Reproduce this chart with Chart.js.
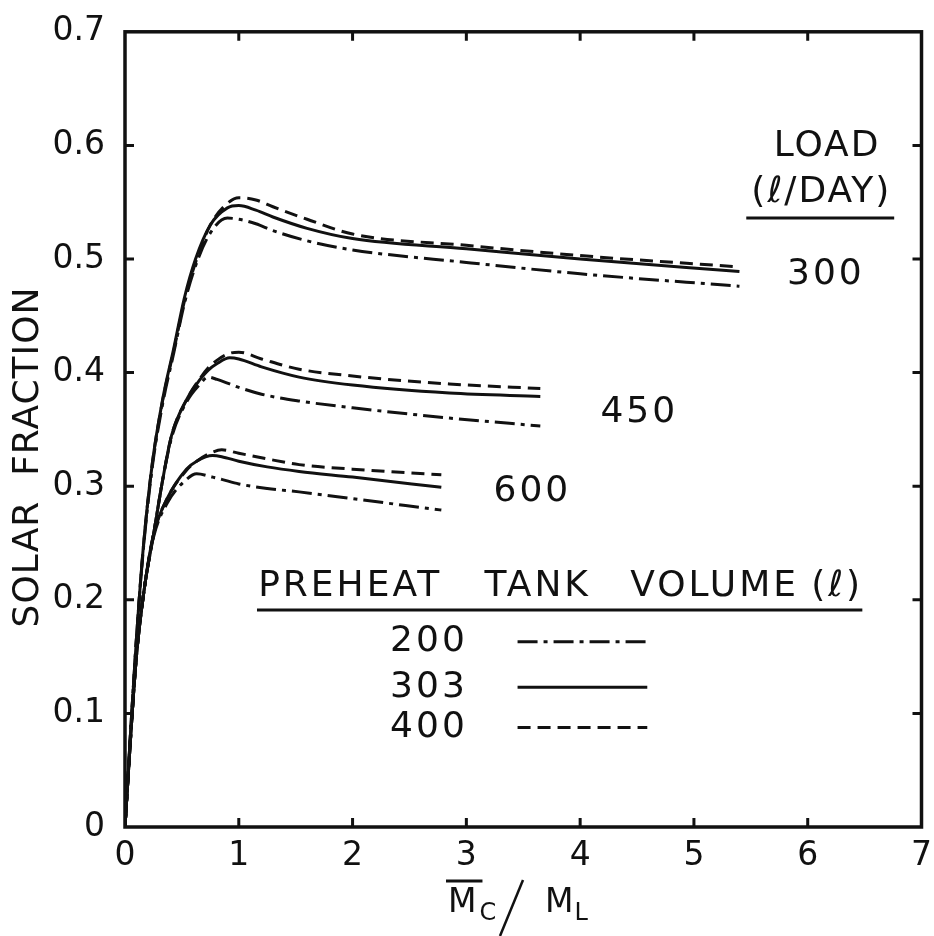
<!DOCTYPE html>
<html>
<head>
<meta charset="utf-8">
<script src="https://cdn.jsdelivr.net/npm/chart.js@4.4.1/dist/chart.umd.min.js"></script>
<style>
  html, body { margin: 0; padding: 0; background: #fff; }
</style>
</head>
<body>
<canvas id="chart" width="934" height="936"></canvas>
<script>
// x = Mc / ML, y = solar fraction, one x grid per load group
const xLoad300 = [0, 0.05, 0.1, 0.16, 0.24, 0.33, 0.43, 0.52, 0.62, 0.75, 0.9, 1.0, 1.15, 1.3, 1.6, 2, 3, 4, 5.4];
const y300_tank200 = [0, 0.085, 0.165, 0.243, 0.317, 0.372, 0.418, 0.46, 0.494, 0.523, 0.536, 0.535, 0.531, 0.525, 0.516, 0.508, 0.497, 0.487, 0.476];
const y300_tank303 = [0, 0.085, 0.165, 0.245, 0.32, 0.376, 0.422, 0.465, 0.5, 0.53, 0.545, 0.547, 0.543, 0.537, 0.527, 0.518, 0.509, 0.5, 0.489];
const y300_tank400 = [0, 0.085, 0.165, 0.245, 0.32, 0.375, 0.42, 0.462, 0.497, 0.53, 0.549, 0.554, 0.552, 0.546, 0.535, 0.522, 0.512, 0.503, 0.493];

const xLoad450 = [0, 0.05, 0.1, 0.17, 0.25, 0.33, 0.41, 0.54, 0.66, 0.73, 0.81, 0.92, 1.0, 1.2, 1.53, 2, 2.85, 3.65];
const y450_tank200 = [0, 0.08, 0.15, 0.21, 0.257, 0.305, 0.343, 0.374, 0.39, 0.396, 0.394, 0.39, 0.387, 0.381, 0.375, 0.369, 0.36, 0.353];
const y450_tank303 = [0, 0.08, 0.15, 0.21, 0.257, 0.305, 0.345, 0.376, 0.394, 0.402, 0.408, 0.413, 0.412, 0.405, 0.396, 0.389, 0.382, 0.379];
const y450_tank400 = [0, 0.08, 0.15, 0.21, 0.257, 0.305, 0.345, 0.376, 0.395, 0.404, 0.411, 0.417, 0.418, 0.412, 0.403, 0.397, 0.39, 0.386];

const xLoad600 = [0, 0.05, 0.1, 0.17, 0.25, 0.37, 0.54, 0.63, 0.77, 0.85, 1.0, 1.25, 1.53, 2, 2.78];
const y600_tank200 = [0, 0.08, 0.15, 0.21, 0.255, 0.285, 0.306, 0.311, 0.308, 0.306, 0.302, 0.298, 0.295, 0.289, 0.279];
const y600_tank303 = [0, 0.08, 0.15, 0.21, 0.257, 0.289, 0.315, 0.322, 0.327, 0.326, 0.322, 0.317, 0.313, 0.308, 0.299];
const y600_tank400 = [0, 0.08, 0.15, 0.21, 0.257, 0.289, 0.314, 0.322, 0.33, 0.332, 0.329, 0.324, 0.319, 0.315, 0.31];

const tankVolumes = ['200', '303', '400'];
const loadLabels = ['300', '450', '600'];
const xTicks = [0, 1, 2, 3, 4, 5, 6, 7];
const yTicks = [0, 0.1, 0.2, 0.3, 0.4, 0.5, 0.6, 0.7];

const FONT = '"DejaVu Sans", sans-serif';
const INK = '#111';
const dashStyles = { '200': [20, 6, 4, 6], '303': [], '400': [13, 7] };

function pts(xs, ys) {
    return xs.map((x, i) => ({ x: x, y: ys[i] }));
}

function curve(label, tank, xs, ys) {
    return {
        label: label,
        data: pts(xs, ys),
        showLine: true,
        borderColor: INK,
        borderWidth: 3,
        borderDash: dashStyles[tank],
        pointRadius: 0,
        cubicInterpolationMode: 'monotone',
        fill: false
    };
}

const datasets = [
    curve('300 / 200', '200', xLoad300, y300_tank200),
    curve('300 / 303', '303', xLoad300, y300_tank303),
    curve('300 / 400', '400', xLoad300, y300_tank400),
    curve('450 / 200', '200', xLoad450, y450_tank200),
    curve('450 / 303', '303', xLoad450, y450_tank303),
    curve('450 / 400', '400', xLoad450, y450_tank400),
    curve('600 / 200', '200', xLoad600, y600_tank200),
    curve('600 / 303', '303', xLoad600, y600_tank303),
    curve('600 / 400', '400', xLoad600, y600_tank400)
];

// frame, inward ticks, annotations and axis titles
const decorations = {
    id: 'decorations',
    afterDraw(chart) {
        const ctx = chart.ctx;
        const a = chart.chartArea;
        const xs = chart.scales.x;
        const ys = chart.scales.y;
        const px = v => xs.getPixelForValue(v);
        const py = v => ys.getPixelForValue(v);

        ctx.save();
        ctx.strokeStyle = INK;
        ctx.fillStyle = INK;
        ctx.setLineDash([]);
        ctx.lineWidth = 3.5;
        ctx.strokeRect(a.left, a.top, a.right - a.left, a.bottom - a.top);

        ctx.lineWidth = 3;
        ctx.beginPath();
        xTicks.slice(1, -1).forEach(v => {
            ctx.moveTo(px(v), a.bottom); ctx.lineTo(px(v), a.bottom - 9);
            ctx.moveTo(px(v), a.top); ctx.lineTo(px(v), a.top + 9);
        });
        yTicks.slice(1, -1).forEach(v => {
            ctx.moveTo(a.left, py(v)); ctx.lineTo(a.left + 9, py(v));
            ctx.moveTo(a.right, py(v)); ctx.lineTo(a.right - 9, py(v));
        });
        ctx.stroke();

        ctx.textBaseline = 'middle';
        ctx.font = '36px ' + FONT;
        ctx.letterSpacing = '2px';

        // load labels
        ctx.textAlign = 'center';
        ctx.fillText('LOAD', px(6.17), py(0.599));
        ctx.fillText('(\u2113/DAY)', px(6.12), py(0.558));
        ctx.lineWidth = 3;
        ctx.beginPath();
        ctx.moveTo(px(5.46), py(0.536)); ctx.lineTo(px(6.76), py(0.536));
        ctx.stroke();
        ctx.letterSpacing = '3px';
        ctx.fillText(loadLabels[0], px(6.16), py(0.4865));
        ctx.fillText(loadLabels[1], px(4.52), py(0.365));
        ctx.fillText(loadLabels[2], px(3.58), py(0.295));

        // tank volume key
        ctx.textAlign = 'left';
        ctx.fillText('PREHEAT', px(1.17), py(0.212));
        ctx.fillText('TANK', px(3.16), py(0.212));
        ctx.fillText('VOLUME', px(4.44), py(0.212));
        ctx.fillText('(\u2113)', px(6.03), py(0.212));
        ctx.beginPath();
        ctx.moveTo(px(1.16), py(0.191)); ctx.lineTo(px(6.48), py(0.191));
        ctx.stroke();

        const keyY = [0.163, 0.123, 0.0875];
        tankVolumes.forEach((t, i) => {
            ctx.textAlign = 'left';
            ctx.fillText(t, px(2.33), py(keyY[i]));
            ctx.setLineDash(dashStyles[t]);
            ctx.beginPath();
            ctx.moveTo(px(3.45), py(keyY[i])); ctx.lineTo(px(4.59), py(keyY[i]));
            ctx.stroke();
            ctx.setLineDash([]);
        });
        ctx.letterSpacing = '0px';

        // y title
        ctx.save();
        ctx.translate(29, 457);
        ctx.rotate(-Math.PI / 2);
        ctx.textAlign = 'center';
        ctx.font = '36px ' + FONT;
        ctx.letterSpacing = '1px';
        ctx.fillText('SOLAR  FRACTION', 0, 0);
        ctx.restore();

        // x title: M-bar c / M L, centred under the axis
        ctx.textAlign = 'left';
        ctx.textBaseline = 'alphabetic';
        ctx.font = '33px ' + FONT;
        const tx = 448, ty = 912;
        ctx.fillText('M', tx, ty);
        const mw = ctx.measureText('M').width;
        ctx.lineWidth = 3;
        ctx.beginPath();
        ctx.moveTo(tx - 2, 881); ctx.lineTo(tx + mw + 6, 881);
        ctx.stroke();
        ctx.font = '24px ' + FONT;
        ctx.fillText('C', tx + mw + 3, 920);
        ctx.lineWidth = 2.5;
        ctx.beginPath();
        ctx.moveTo(523, 880); ctx.lineTo(500, 936);
        ctx.stroke();
        ctx.font = '33px ' + FONT;
        ctx.fillText('M', 545, ty);
        const mw2 = ctx.measureText('M').width;
        ctx.font = '24px ' + FONT;
        ctx.fillText('L', 545 + mw2 + 1, 920);
        ctx.restore();
    }
};

new Chart(document.getElementById('chart'), {
    type: 'scatter',
    data: { datasets: datasets },
    options: {
        responsive: false,
        animation: false,
        layout: { padding: { top: 27, right: 12, left: 0, bottom: 0 } },
        plugins: { legend: { display: false }, tooltip: { enabled: false } },
        scales: {
            x: {
                type: 'linear',
                min: 0,
                max: 7,
                afterFit: s => { s.height = 109; },
                afterBuildTicks: s => { s.ticks = xTicks.map(v => ({ value: v })); },
                grid: { display: false },
                border: { display: false },
                ticks: {
                    color: INK,
                    font: { family: FONT, size: 33 },
                    padding: 2,
                    maxRotation: 0
                }
            },
            y: {
                type: 'linear',
                min: 0,
                max: 0.7,
                afterFit: s => { s.width = 125; },
                afterBuildTicks: s => { s.ticks = yTicks.map(v => ({ value: v })); },
                grid: { display: false },
                border: { display: false },
                ticks: {
                    color: INK,
                    font: { family: FONT, size: 33 },
                    padding: 12,
                    callback: v => (v === 0 ? '0' : v.toFixed(1))
                }
            }
        }
    },
    plugins: [decorations]
});
</script>
</body>
</html>
